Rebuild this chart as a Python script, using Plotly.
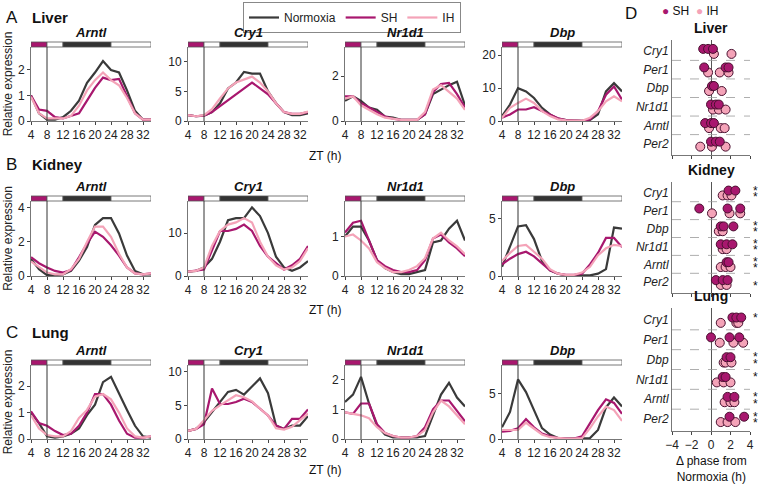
import plotly.graph_objects as go

W, H = 759, 486
FONT = "Liberation Sans, Arial, sans-serif"

zt = [4, 6, 8, 10, 12, 14, 16, 18, 20, 22, 24, 26, 28, 30, 32, 34]
tissues = ["Liver", "Kidney", "Lung"]
letters = ["A", "B", "C"]
genes = ["Arntl", "Cry1", "Nr1d1", "Dbp"]

# mean expression curves [tissue][gene] -> (normoxia, SH, IH)
liver_arntl = ([1.0, 0.3, 0.05, 0.05, 0.15, 0.4, 0.8, 1.5, 1.9, 2.35, 2.0, 1.9, 1.2, 0.4, 0.05, 0.05],
               [1.0, 0.45, 0.4, 0.15, 0.1, 0.2, 0.3, 0.8, 1.3, 1.7, 1.6, 1.65, 1.0, 0.3, 0.05, 0.05],
               [0.95, 0.3, 0.1, 0.1, 0.1, 0.2, 0.6, 1.2, 1.6, 1.9, 1.6, 1.4, 0.9, 0.3, 0.05, 0.05])
liver_cry1 = ([1, 0.8, 0.9, 1.5, 3, 5.5, 6.5, 8.3, 8, 8, 5, 3, 1.5, 1, 1, 1.3],
              [1, 0.8, 0.9, 1.5, 2.5, 3.5, 4.5, 5.5, 6.5, 5.5, 4.5, 3, 1.5, 1.2, 1.2, 1.5],
              [1, 0.8, 1, 2, 3.8, 5.5, 6.5, 7, 7.5, 6.5, 5, 3, 1.5, 1.2, 1.2, 1.6])
liver_nr1d1 = ([0.9, 1.1, 0.9, 0.6, 0.5, 0.2, 0.15, 0.05, 0.05, 0.05, 0.3, 1.2, 1.4, 1.6, 1.75, 0.7],
               [1.1, 1.1, 0.8, 0.6, 0.4, 0.2, 0.1, 0.05, 0.05, 0.05, 0.3, 1.3, 1.65, 1.7, 1.2, 0.6],
               [1.0, 1.1, 0.7, 0.5, 0.3, 0.15, 0.1, 0.05, 0.05, 0.05, 0.4, 1.4, 1.6, 1.3, 1.0, 0.5])
liver_dbp = ([1.5, 5, 10, 9, 7, 4, 2, 0.7, 0.3, 0.1, 0.05, 0.3, 2, 9, 11.5, 9],
             [1, 2, 3.5, 3.5, 4.2, 3, 2, 0.8, 0.3, 0.1, 0.05, 0.5, 3, 8, 10.5, 6.5],
             [1, 4, 5.5, 6.8, 5.5, 3, 1.5, 0.5, 0.2, 0.1, 0.05, 1, 3, 6, 7.5, 6])
kidney_arntl = ([1.0, 0.4, 0.05, 0.05, 0.1, 0.3, 0.9, 1.7, 3.0, 3.4, 3.4, 2.5, 1.2, 0.3, 0.1, 0.1],
                [1.1, 0.75, 0.5, 0.3, 0.2, 0.35, 1.1, 1.9, 2.6, 2.3, 1.8, 1.2, 0.5, 0.15, 0.1, 0.15],
                [0.85, 0.5, 0.2, 0.1, 0.1, 0.4, 1.0, 2.0, 2.9, 2.9, 2.3, 1.3, 0.5, 0.15, 0.1, 0.15])
kidney_cry1 = ([1, 1.2, 2, 4, 8, 13, 13.5, 13.5, 16, 14, 10, 4.5, 2, 1.2, 2, 3.5],
               [1, 1.2, 1.5, 6, 10.5, 10.5, 11, 12, 10.5, 7, 4.5, 3, 1.5, 2.5, 4, 7],
               [1, 1.2, 2, 7, 10.5, 12, 12.5, 13.5, 12.5, 8, 4.5, 2.5, 1.5, 2, 3.5, 6.5])
kidney_nr1d1 = ([1.0, 1.25, 1.25, 0.9, 0.4, 0.2, 0.1, 0.05, 0.05, 0.1, 0.15, 0.85, 0.9, 1.2, 1.4, 0.9],
                [1.1, 1.35, 1.4, 0.9, 0.4, 0.25, 0.15, 0.1, 0.1, 0.15, 0.4, 0.95, 1.05, 0.85, 0.7, 0.5],
                [1.0, 1.05, 0.9, 0.7, 0.35, 0.2, 0.1, 0.1, 0.15, 0.25, 0.45, 0.95, 1.1, 0.9, 0.75, 0.55])
kidney_dbp = ([0.8, 2.5, 4.3, 4.4, 3.2, 1.3, 0.5, 0.2, 0.05, 0.05, 0.05, 0.05, 0.2, 0.6, 4.2, 4.1],
              [1.0, 1.5, 1.9, 2.1, 1.7, 1.1, 0.5, 0.2, 0.1, 0.1, 0.2, 1.0, 2.0, 3.3, 3.3, 2.5],
              [1.3, 2.0, 2.6, 2.7, 2.1, 1.5, 0.6, 0.2, 0.1, 0.1, 0.3, 0.8, 1.8, 2.4, 2.7, 2.6])
lung_arntl = ([1.0, 0.6, 0.1, 0.05, 0.1, 0.2, 0.4, 0.9, 1.3, 2.15, 2.35, 1.7, 1.1, 0.5, 0.1, 0.05],
              [1.05, 0.6, 0.5, 0.3, 0.15, 0.2, 0.5, 1.0, 1.7, 1.7, 1.3, 0.7, 0.2, 0.05, 0.05, 0.1],
              [0.9, 0.4, 0.15, 0.1, 0.1, 0.3, 0.8, 1.1, 1.6, 1.7, 1.5, 1.0, 0.4, 0.1, 0.05, 0.1])
lung_cry1 = ([1.2, 1.5, 2.5, 4, 5.5, 7, 7.3, 6.6, 7.8, 9, 6.8, 2, 1.5, 2, 2, 3.4],
             [1.2, 1.5, 2.2, 7.5, 5.2, 5.2, 5.5, 6, 5.5, 4.5, 3.5, 2, 1.5, 3, 3, 4.4],
             [1.2, 1.5, 2.8, 4.2, 5, 5.8, 6.5, 6.2, 5.6, 4.5, 3.5, 1.6, 1.4, 1.8, 2.8, 3.8])
lung_nr1d1 = ([1.25, 1.5, 2.1, 1.2, 0.45, 0.15, 0.05, 0.05, 0.05, 0.05, 0.1, 0.8, 1.5, 1.9, 1.4, 1.1],
              [0.9, 0.85, 1.2, 1.2, 0.5, 0.2, 0.1, 0.05, 0.05, 0.1, 0.4, 1.0, 1.3, 1.3, 0.95, 0.6],
              [0.9, 0.85, 0.8, 0.7, 0.4, 0.2, 0.1, 0.05, 0.05, 0.1, 0.3, 0.9, 1.3, 1.1, 0.8, 0.5])
lung_dbp = ([1.3, 3, 6.6, 5.2, 3.2, 1.2, 0.5, 0.1, 0.05, 0.05, 0.05, 0.1, 1.0, 3.5, 4.6, 3.6],
            [0.8, 0.9, 1.2, 2.2, 1.3, 0.6, 0.3, 0.1, 0.05, 0.05, 0.3, 1.8, 3.2, 4.4, 4.0, 2.8],
            [1.0, 1.0, 1.0, 1.8, 1.1, 0.5, 0.2, 0.1, 0.05, 0.05, 0.1, 1.2, 2.5, 3.6, 3.2, 2.0])

curves = [[liver_arntl, liver_cry1, liver_nr1d1, liver_dbp],
          [kidney_arntl, kidney_cry1, kidney_nr1d1, kidney_dbp],
          [lung_arntl, lung_cry1, lung_nr1d1, lung_dbp]]
y_max = [[2.9, 12.5, 3.3, 22.5], [4.4, 17.5, 1.9, 6.5], [2.8, 11, 2.5, 8.2]]
y_ticks = [[[0, 1, 2], [0, 5, 10], [0, 2], [0, 10, 20]],
           [[0, 2, 4], [0, 10], [0, 1], [0, 5]],
           [[0, 1, 2], [0, 5, 10], [0, 1, 2], [0, 5]]]
x_ticks = [4, 8, 12, 16, 20, 24, 28, 32]

# phase shift panel D
d_genes = ["Cry1", "Per1", "Dbp", "Nr1d1", "Arntl", "Per2"]
phase_sh = {
    "Liver": [[-0.8, -0.3, 0.2], [-0.7, 1.5, 1.8], [0.1, 0.3], [0.0, 0.5, 0.8], [-0.6, 0.0, 0.3], [0.0, 0.5, 0.9]],
    "Kidney": [[1.8, 2.5], [-1.2, 1.7, 3.0], [1.0, 1.3, 2.3], [1.0, 1.6, 2.2], [1.6, 1.8], [0.5, 1.2, 1.7]],
    "Lung": [[2.2, 2.6, 3.1], [0.0, 1.9, 2.9], [1.6, 2.0], [1.2, 1.5], [1.7, 2.4], [1.9, 3.4]],
}
phase_ih = {
    "Liver": [[0.3, 2.1], [-0.3, 0.9, 1.8], [-0.2, 1.1], [0.2, 0.8, 1.5], [-0.2, 1.0, 1.4], [-1.1, 0.1, 1.5]],
    "Kidney": [[1.2, 1.7, 2.1], [0.1, 1.9, 3.0], [0.8, 1.2], [1.2, 1.6], [1.0, 1.5, 2.0], [1.0, 1.6]],
    "Lung": [[1.0, 2.6, 2.8], [0.9, 2.3, 3.3], [1.3, 1.5, 2.1], [0.6, 1.3, 2.0], [1.4, 2.0, 2.4], [1.0, 1.7, 2.5]],
}
# significance marks per gene: (SH, IH)
stars = {"Liver": [("", "")] * 6,
         "Kidney": [("*", "*"), ("", ""), ("*", "*"), ("*", "*"), ("*", "*"), ("", "*")],
         "Lung": [("*", ""), ("", ""), ("*", "*"), ("*", ""), ("*", "*"), ("*", "*")]}

C_N, C_SH, C_IH = "#3a3a3a", "#a8176e", "#f4a3b8"


def px(x):
    return x / W


def py(y):
    return 1 - y / H


def note(text, x, y, size=12, xa="center", ya="middle", **kw):
    d = dict(text=text, xref="paper", yref="paper", x=px(x), y=py(y), xanchor=xa, yanchor=ya,
             showarrow=False, font=dict(size=size, color="#111"))
    d.update(kw)
    return d


fig = go.Figure()
layout = dict(width=W, height=H, margin=dict(l=0, r=0, t=0, b=0, autoexpand=False),
              plot_bgcolor="white", paper_bgcolor="white",
              font=dict(family=FONT, size=11, color="#222"))
shapes, annos = [], []

col_left = [31, 188, 345, 502]
row_top = [47, 201, 365]
row_bot = [121, 276, 439]
zt_label_y = [156, 310, 470]
tissue_y = [18, 165, 332]

k = 0
for r in range(3):
    for c in range(4):
        k += 1
        xa, ya = f"xaxis{k}", f"yaxis{k}"
        xr, yr = f"x{k}", f"y{k}"
        for name, ys, col in zip(["Normoxia", "SH", "IH"], curves[r][c], [C_N, C_SH, C_IH]):
            fig.add_trace(go.Scatter(x=zt, y=ys, mode="lines", name=name,
                                     line=dict(color=col, width=2.2),
                                     xaxis=xr, yaxis=yr, showlegend=(k == 1)))
        layout[xa] = dict(domain=[px(col_left[c]), px(col_left[c] + 120)], range=[4, 34],
                          anchor=yr, tickvals=x_ticks, ticks="outside", ticklen=3,
                          showgrid=False, showline=True, linecolor="#777", automargin=False,
                          tickfont=dict(size=12), zeroline=False)
        layout[ya] = dict(domain=[py(row_bot[r]), py(row_top[r])], range=[0, y_max[r][c]],
                          anchor=xr, tickvals=y_ticks[r][c], ticks="outside", ticklen=3,
                          showgrid=False, showline=True, linecolor="#777", automargin=False,
                          tickfont=dict(size=12), zeroline=False)
        if c == 0:
            layout[ya]["title"] = dict(text="Relative expression", font=dict(size=12), standoff=2)
        # light/dark bar
        yb0, yb1 = py(row_top[r]), py(row_top[r] - 5)
        for x0, x1, fc in [(4, 8, C_SH), (8, 12, "white"), (12, 24, "#333"), (24, 34, "white")]:
            shapes.append(dict(type="rect", xref=xr, yref="paper", x0=x0, x1=x1, y0=yb0, y1=yb1,
                               fillcolor=fc, line=dict(color="#555", width=0.8)))
        shapes.append(dict(type="line", xref=xr, yref="paper", x0=8, x1=8, y0=py(row_bot[r]), y1=yb0,
                           line=dict(color="#333", width=1)))
        annos.append(note(f"<b><i>{genes[c]}</i></b>", col_left[c] + 60, row_top[r] - 5,
                          size=13, ya="bottom"))
    annos.append(note(letters[r], 4, tissue_y[r], size=17, xa="left"))
    annos.append(note(f"<b>{tissues[r]}</b>", 30, tissue_y[r], size=15, xa="left"))
    annos.append(note("ZT (h)", 325, zt_label_y[r]))

# panel D
d_top = [40, 182, 308]
d_bot = [155, 293, 431]
for r, t in enumerate(tissues):
    k += 1
    xr, yr = f"x{k}", f"y{k}"
    pos = list(range(len(d_genes)))
    for vals, col, off, nm in [(phase_ih[t], "#f4a3b8", 0.15, "IH"), (phase_sh[t], C_SH, -0.12, "SH")]:
        xs, ys = [], []
        for i, v in enumerate(vals):
            xs += v
            ys += [i + off] * len(v)
        fig.add_trace(go.Scatter(x=xs, y=ys, mode="markers", name=nm, showlegend=False,
                                 marker=dict(size=9, color=col, line=dict(color="#4a1030", width=1)),
                                 xaxis=xr, yaxis=yr))
    layout[f"xaxis{k}"] = dict(domain=[px(672), px(750)], range=[-4, 4], anchor=yr,
                               tickvals=[-4, -2, 0, 2, 4], showticklabels=(r == 2),
                               ticks="outside", ticklen=3, showgrid=False, showline=True,
                               linecolor="#777", zeroline=True, zerolinecolor="#555",
                               zerolinewidth=1, tickfont=dict(size=12), automargin=False)
    layout[f"yaxis{k}"] = dict(domain=[py(d_bot[r]), py(d_top[r])], range=[5.6, -0.6], anchor=xr,
                               tickvals=pos, ticktext=[f"<i>{g}</i>" for g in d_genes],
                               showgrid=False, showline=True, linecolor="#777", automargin=False,
                               ticks="", tickfont=dict(size=12), zeroline=False)
    for i in range(5):
        shapes.append(dict(type="line", xref=f"{xr} domain", yref=yr, x0=0, x1=1, y0=i + 0.5,
                           y1=i + 0.5, line=dict(color="#999", width=0.8, dash="dash")))
    for i, pair in enumerate(stars[t]):
        for s, off in zip(pair, (-0.12, 0.22)):
            if s:
                annos.append(dict(text=s, xref="paper", yref=yr, x=px(751), y=i + off,
                                  xanchor="left", yanchor="middle", showarrow=False,
                                  font=dict(size=12, color="#111")))
    annos.append(note(f"<b>{t}</b>", 711, d_top[r] - 2, size=14, ya="bottom"))

annos.append(note("D", 623, 13, size=17, xa="left"))
annos.append(note("<span style='color:#a8176e'>●</span> SH  <span style='color:#f4a3b8'>●</span> IH",
                  690, 11))
annos.append(note("Δ phase from<br>Normoxia (h)", 711, 469))

layout["shapes"] = shapes
layout["annotations"] = annos
layout["legend"] = dict(orientation="h", x=px(243), y=py(2), xanchor="left", yanchor="top",
                        bordercolor="#888", borderwidth=1, font=dict(size=12),
                        itemwidth=30, tracegroupgap=0, bgcolor="white")
fig.update_layout(**layout)
fig.write_html("out.html", config={"displayModeBar": False},
               post_script="document.body.style.margin='0';")
